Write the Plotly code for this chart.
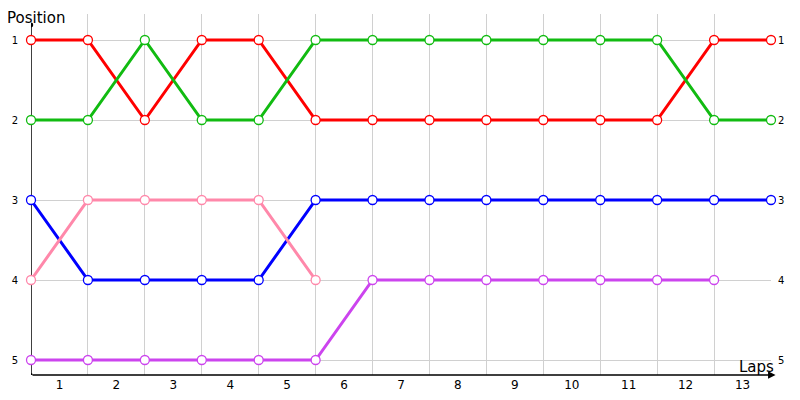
import plotly.graph_objects as go

# lap boundaries (0 = start) and position of every driver at each boundary
laps = list(range(14))
lap_labels = [str(i) for i in range(1, 14)]

red = [1, 1, 2, 1, 1, 2, 2, 2, 2, 2, 2, 2, 1, 1]
green = [2, 2, 1, 2, 2, 1, 1, 1, 1, 1, 1, 1, 2, 2]
blue = [3, 4, 4, 4, 4, 3, 3, 3, 3, 3, 3, 3, 3, 3]
pink = [4, 3, 3, 3, 3, 4]
purple = [5, 5, 5, 5, 5, 5, 4, 4, 4, 4, 4, 4, 4]

positions = [1, 2, 3, 4, 5]

series = [
    (red, "#ff0000"),
    (green, "#11bb11"),
    (blue, "#0000ff"),
    (pink, "#ff88aa"),
    (purple, "#cc44ee"),
]

fig = go.Figure()
for vals, col in series:
    fig.add_trace(go.Scatter(
        x=laps[:len(vals)],
        y=vals,
        mode="lines+markers",
        line=dict(color=col, width=3),
        marker=dict(symbol="circle", size=9, color="white",
                    line=dict(color=col, width=1.3)),
        cliponaxis=False,
        showlegend=False,
        hoverinfo="skip",
    ))

# invisible trace so the lap-label axis and right-hand axis get drawn
fig.add_trace(go.Scatter(x=[laps[-1]], y=[positions[0]], xaxis="x2", yaxis="y2",
                         mode="markers", marker=dict(opacity=0),
                         showlegend=False, hoverinfo="skip"))

y_lo, y_hi = 5.1875, 0.675
tick_font = dict(family="DejaVu Sans", size=10, color="#000000")

# page body has an 8px margin, so the margins below are shifted to compensate
fig.update_layout(
    width=800, height=400,
    margin=dict(l=23, r=37, t=6, b=33, autoexpand=False),
    plot_bgcolor="white",
    paper_bgcolor="white",
    xaxis=dict(range=[0, 13], tickvals=laps, showticklabels=False,
               showgrid=True, gridcolor="#d0d0d0", gridwidth=1,
               zeroline=False, ticks="", automargin=False),
    xaxis2=dict(range=[0, 13], overlaying="x", side="bottom",
                tickvals=[i + 0.5 for i in range(13)], ticktext=lap_labels,
                showgrid=False, zeroline=False, ticks="", automargin=False,
                ticklabelstandoff=1,
                tickfont=dict(family="DejaVu Sans", size=12, color="#000000")),
    yaxis=dict(range=[y_lo, y_hi], tickvals=positions,
               ticktext=[str(p) for p in positions],
               showgrid=True, gridcolor="#d0d0d0", gridwidth=1, automargin=False,
               zeroline=False, ticks="", tickfont=tick_font, ticklabelstandoff=12),
    yaxis2=dict(range=[y_lo, y_hi], overlaying="y", side="right",
                tickvals=positions, ticktext=[str(p) for p in positions],
                showgrid=False, zeroline=False, ticks="", tickfont=tick_font,
                ticklabelstandoff=6, automargin=False),
    shapes=[
        dict(type="line", xref="x", yref="y", x0=0, x1=0, y0=y_lo, y1=0.8125,
             layer="below", line=dict(color="black", width=1.5)),
        dict(type="circle", xref="x", yref="y", x0=-0.04, x1=0.04,
             y0=0.8125 - 0.03, y1=0.8125 + 0.03,
             fillcolor="black", line=dict(color="black", width=0)),
        dict(type="circle", xref="x", yref="y", x0=-0.03, x1=0.03,
             y0=y_lo - 0.025, y1=y_lo + 0.025,
             fillcolor="black", line=dict(color="black", width=0)),
    ],
    annotations=[
        dict(x=13.08, y=y_lo, ax=0, ay=y_lo, xref="x", yref="y",
             axref="x", ayref="y", showarrow=True, arrowhead=2,
             arrowsize=1, arrowwidth=1.5, arrowcolor="black", text=""),
        dict(text="Position", xref="paper", yref="paper",
             x=-0.035, y=0.99, xanchor="left", yanchor="middle",
             showarrow=False,
             font=dict(family="DejaVu Sans", size=15, color="#000000")),
        dict(text="Laps", xref="paper", yref="paper",
             x=1.007, y=0.022, xanchor="right", yanchor="middle",
             showarrow=False,
             font=dict(family="DejaVu Sans", size=15, color="#000000")),
    ],
)

fig.write_html("out.html")
